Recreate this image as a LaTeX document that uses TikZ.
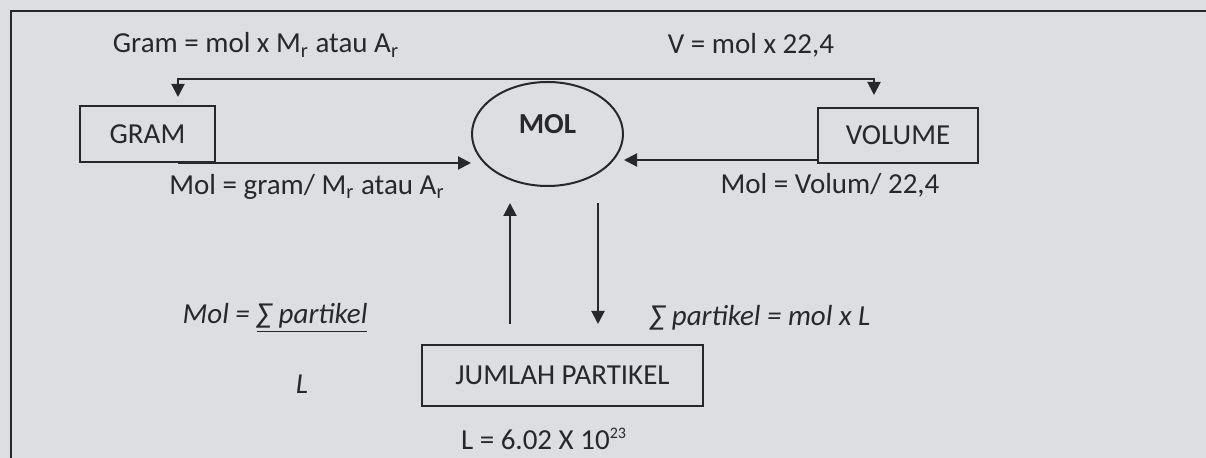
\documentclass[tikz,border=0pt]{standalone}
\usepackage{fontspec}
\setmainfont{Carlito}
\usetikzlibrary{arrows.meta,shapes.geometric}
\definecolor{paper}{RGB}{221,222,225}
\definecolor{ink}{RGB}{40,40,42}

\begin{document}
\begin{tikzpicture}[x=0.5pt,y=-0.5pt,line cap=butt,line join=miter,
  >={Triangle[length=6.5pt,width=6.5pt]},
  every node/.style={inner sep=1pt,text=ink,font=\fontsize{14.5}{17}\selectfont},
  box/.style={draw=ink,line width=1pt,rectangle},
  ell/.style={draw=ink,line width=1pt,ellipse,minimum width=75.5pt,minimum height=52pt},
  arr/.style={->,draw=ink,line width=1pt},
  dbl/.style={<->,draw=ink,line width=1pt}]
  \useasboundingbox (0,0) rectangle (1206,458);
  \fill[paper] (0,0) rectangle (1206,458);
  \draw[ink,line width=1.1pt] (1206,11) -- (11,11) -- (11,458);
  % boxes
  \node[box,minimum width=67.5pt,minimum height=28pt] (gram) at (147.5,134) {GRAM};
  \node[box,minimum width=80pt,minimum height=27.5pt] (volume) at (898,135.5) {VOLUME};
  \node[ell] (mol) at (547.5,134) {};
  \node[font=\fontsize{14.5}{17}\selectfont\bfseries] (moltxt) at ([yshift=5pt]mol.center) {MOL};
  \node[box,minimum width=140.5pt,minimum height=30.5pt] (jumlah) at (562.5,375.5) {JUMLAH PARTIKEL};
  % formulas
  \node (gramlbl) at (256,45) {Gram = mol x M\textsubscript{r} atau A\textsubscript{r}};
  \node (vlbl) at (751,45) {V = mol x 22,4};
  \node (molgram) at (307,187) {Mol = gram/ M\textsubscript{r} atau A\textsubscript{r}};
  \node (molvol) at (830,185) {Mol = Volum/ 22,4};
  \node[font=\fontsize{14.5}{17}\selectfont\itshape] (molpart) at (275,318) {Mol = \underline{∑ partikel}};
  \node[font=\fontsize{14.5}{17}\selectfont\itshape] (lbelow) at (302,384) {L};
  \node[font=\fontsize{14.5}{17}\selectfont\itshape] (partmol) at (760,318) {∑ partikel = mol x L};
  \node (lval) at (544,439) {L = 6.02 X 10\textsuperscript{\fontsize{8}{9}\selectfont 23}};
  % connectors
  \coordinate (gtop) at (178,79);
  \coordinate (vtop) at (874,79);
  \coordinate (upx) at (510,0);
  \coordinate (dnx) at (598,0);
  \draw[dbl,shorten <=4pt,shorten >=6pt] (gram.north -| gtop) -- (gtop) -- (vtop) -- (volume.north -| vtop);
  \draw[arr] (gram.south -| gtop) -- (gram.south -| mol.west);
  \draw[arr] ([yshift=2pt]volume.south west) -- ([yshift=2pt]volume.south west -| mol.east);
  \draw[arr,shorten <=10pt,shorten >=8pt] (jumlah.north -| upx) -- (mol.south -| upx);
  \draw[arr,shorten <=8pt,shorten >=10pt] (mol.south -| dnx) -- (jumlah.north -| dnx);
\end{tikzpicture}
\end{document}
